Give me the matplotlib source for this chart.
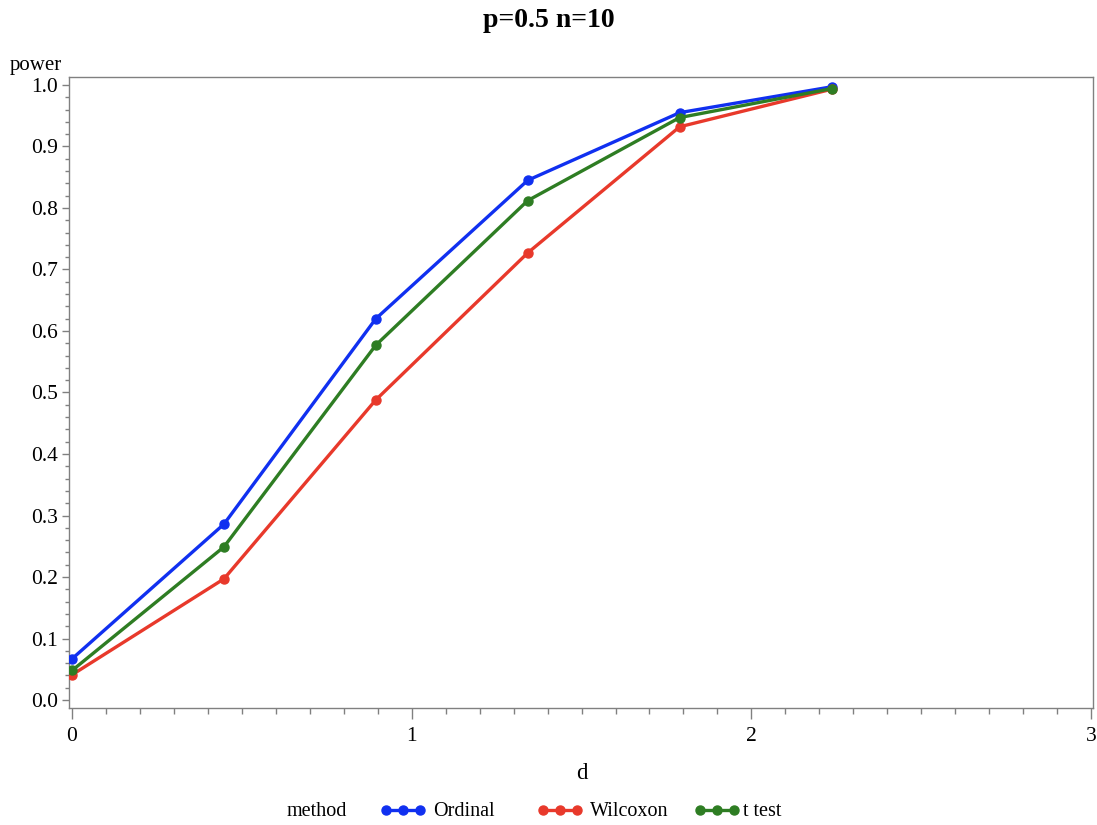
import numpy as np
import matplotlib
matplotlib.use("Agg")
import matplotlib.pyplot as plt
from matplotlib.ticker import MultipleLocator, FormatStrFormatter
from matplotlib.lines import Line2D

d = [0.0, 0.4472, 0.8944, 1.3416, 1.7889, 2.2361]
ordinal = [0.067, 0.286, 0.620, 0.845, 0.955, 0.997]
wilcoxon = [0.041, 0.197, 0.488, 0.727, 0.932, 0.993]
ttest = [0.048, 0.249, 0.577, 0.812, 0.947, 0.994]
series = [("Ordinal", ordinal, "#1030f0"), ("Wilcoxon", wilcoxon, "#e8392b"), ("t test", ttest, "#2e7d23")]

plt.rcParams['font.family'] = ['Liberation Serif', 'DejaVu Serif']

W, H = 1097, 825
fig = plt.figure(figsize=(W / 100, H / 100), dpi=100)
ax = fig.add_axes([0.0629, 0.1418, 0.9335, 0.7649])

for name, vals, col in series:
    ax.plot(d, vals, color=col, lw=2.4, marker='o', ms=6.5, label=name, zorder=3)

ax.set_xlim(-0.009, 3.006)
ax.set_ylim(-0.013, 1.013)
ax.xaxis.set_major_locator(MultipleLocator(1))
ax.xaxis.set_minor_locator(MultipleLocator(0.1))
ax.yaxis.set_major_locator(MultipleLocator(0.1))
ax.yaxis.set_minor_locator(MultipleLocator(0.02))
ax.yaxis.set_major_formatter(FormatStrFormatter('%.1f'))
ax.tick_params(axis='x', which='major', direction='out', length=8, width=1, color='#808080', labelsize=15.5, pad=6)
ax.tick_params(axis='x', which='minor', direction='out', length=4, width=1, color='#808080')
ax.tick_params(axis='y', which='major', direction='out', length=5, width=1, color='#808080', labelsize=15.5, pad=3)
ax.tick_params(axis='y', which='minor', direction='out', length=3, width=1, color='#808080')
for s in ax.spines.values():
    s.set_color('#808080')
    s.set_linewidth(1)

fig.text(0.5, 0.975, "p=0.5 n=10", ha='center', va='center', fontsize=20, fontweight='bold')
fig.text(0.009, 0.921, "power", ha='left', va='center', fontsize=15)
fig.text(0.53, 0.063, "d", ha='center', va='center', fontsize=16.5)

# legend drawn in figure pixel positions
fig.text(287 / W, 1 - 812 / H, "method", ha='left', va='center', fontsize=14.5)
leg_x0 = [386, 543, 700]
leg_tx = [433, 590, 743]
for (name, _, col), x0, tx in zip(series, leg_x0, leg_tx):
    xs = [x0 / W, (x0 + 17) / W, (x0 + 34) / W]
    ys = [1 - 810 / H] * 3
    fig.add_artist(Line2D(xs, ys, transform=fig.transFigure, color=col, lw=2.4,
                          marker='o', ms=6.5))
    fig.text(tx / W, 1 - 812 / H, name, ha='left', va='center', fontsize=14.5)

fig.savefig("out.png", dpi=100)
